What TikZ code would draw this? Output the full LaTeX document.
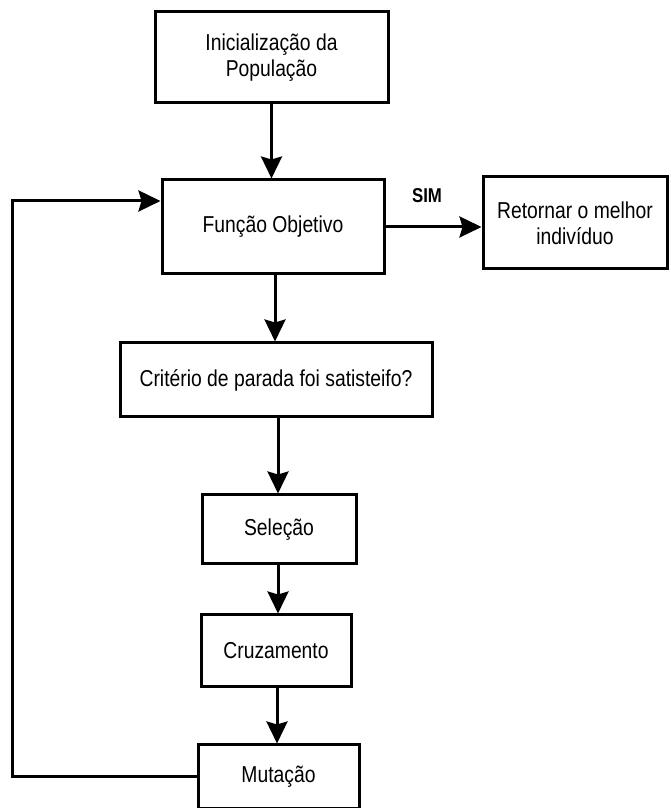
\documentclass[tikz,border=0pt]{standalone}
\usepackage{fontspec}
\setmainfont{Liberation Sans}[FakeStretch=0.84]
\usetikzlibrary{arrows.meta,positioning}
\tikzset{
  block/.style={rectangle, draw=black, line width=3pt, fill=white, align=center,
                inner sep=0pt, font=\fontsize{23}{26}\selectfont},
  arrow/.style={-{Stealth[length=22pt, width=21pt, inset=3pt]}, line width=3pt, black},
}

\begin{document}
\begin{tikzpicture}[x=1pt, y=1pt]
\useasboundingbox (0,0) rectangle (671,808);

% Main blocks
\node[block, minimum width=233pt, minimum height=91pt] (init) at (271.5,750.5) {Inicialização da\\População};
\node[block, minimum width=222pt, minimum height=94pt] (func) at (273,581) {Função Objetivo};
\node[block, minimum width=184pt, minimum height=92pt] (best) at (575,585) {Retornar o melhor\\indivíduo};
\node[block, minimum width=312pt, minimum height=74pt] (crit) at (276,428) {Critério de parada foi satisteifo?};
\node[block, minimum width=154pt, minimum height=69pt] (sel) at (279,278.5) {Seleção};
\node[block, minimum width=150pt, minimum height=72pt] (cross) at (276,157) {Cruzamento};
\node[block, minimum width=161pt, minimum height=64pt] (mut) at (278.5,31) {Mutação};

% Label
\node[font=\fontsize{20}{22}\selectfont\bfseries] (yes) at (427,612) {SIM};

% Arrows
\draw[arrow] (init.south) -- (init.south |- func.north);
\draw[arrow] (func.east) -- (func.east -| best.west);
\draw[arrow] ([xshift=2pt]func.south) -- ([xshift=2pt]func.south |- crit.north);
\draw[arrow] ([xshift=2pt]crit.south) -- ([xshift=2pt]crit.south |- sel.north);
\draw[arrow] ([xshift=-1pt]sel.south) -- ([xshift=-1pt]sel.south |- cross.north);
\draw[arrow] ([xshift=1pt]cross.south) -- ([xshift=1pt]cross.south |- mut.north);

% Loop back
\coordinate (loopin) at ([yshift=26pt]func.west);
\draw[arrow] (mut.west) -- ++(-184,0) |- (loopin);

\end{tikzpicture}
\end{document}
